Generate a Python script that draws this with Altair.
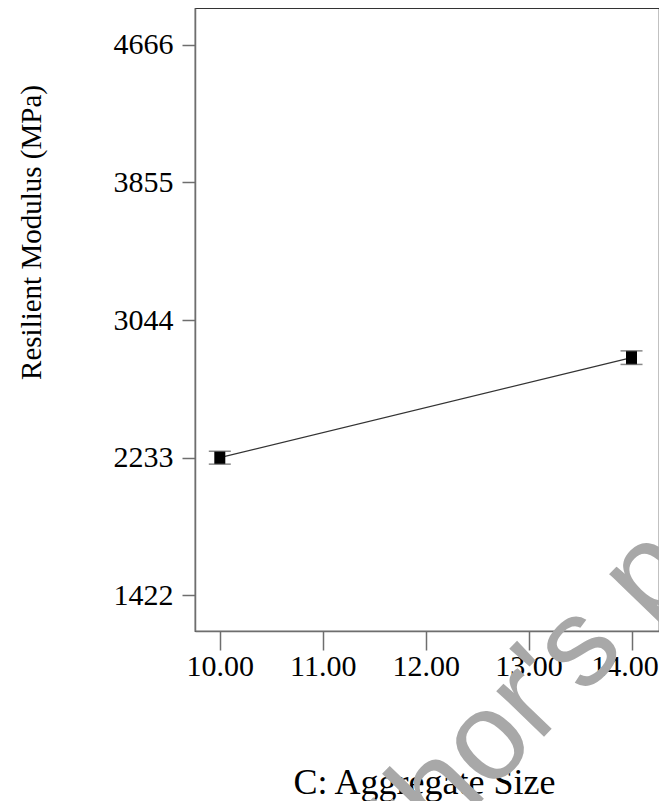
import altair as alt
import pandas as pd

# Data
levels = [10.0, 14.0]
means = [2232, 2822]
errs = [38, 40]

y_ticks = [1422, 2233, 3044, 3855, 4666]
x_ticks = [10.0, 11.0, 12.0, 13.0, 14.0]
y_domain = [1210, 4884]
x_domain = [9.759, 14.267]

df = pd.DataFrame({
    "x": levels,
    "m": means,
    "lo": [m - e for m, e in zip(means, errs)],
    "hi": [m + e for m, e in zip(means, errs)],
})

FONT = "Liberation Serif"
W, H = 464, 623

xs = alt.Scale(domain=x_domain, nice=False, zero=False)
ys = alt.Scale(domain=y_domain, nice=False, zero=False)

xax = alt.Axis(
    values=x_ticks, format=".2f", title="C: Aggregate Size", grid=False,
    labelFont=FONT, labelFontSize=30, labelColor="black", labelPadding=1,
    labelFlush=False, labelOverlap=False, labelBound=False,
    labelOffset={"condition": {"test": "datum.value >= 14", "value": -7}, "value": 0},
    tickSize=19, tickColor="#6e6e6e", tickWidth=1.5,
    domainColor="#6e6e6e", domainWidth=1.5,
    titleFont=FONT, titleFontSize=36, titleFontWeight="normal", titleColor="black",
    titleX=229, titleY=162, titleAlign="center", titleBaseline="alphabetic",
)
yax = alt.Axis(
    values=y_ticks, format="d", title="Resilient Modulus (MPa)", grid=False,
    labelFont=FONT, labelFontSize=30, labelColor="black", labelPadding=9,
    labelFlush=False, labelOverlap=False,
    tickSize=13, tickColor="#6e6e6e", tickWidth=1.5,
    domainColor="#6e6e6e", domainWidth=1.5,
    titleFont=FONT, titleFontSize=29, titleFontWeight="normal", titleColor="black",
    titleAngle=270, titleX=-155, titleY=224, titleAlign="center",
    titleBaseline="alphabetic",
)

base = alt.Chart(df)

line = base.mark_line(color="#333333", strokeWidth=1.2).encode(
    x=alt.X("x:Q", scale=xs, axis=xax),
    y=alt.Y("m:Q", scale=ys, axis=yax),
)
body = base.mark_rule(color="black", strokeWidth=11, strokeCap="butt").encode(
    x=alt.X("x:Q", scale=xs), y=alt.Y("lo:Q", scale=ys), y2="hi:Q"
)
cap_lo = base.mark_tick(orient="horizontal", size=22, thickness=1.5, color="#555555").encode(
    x=alt.X("x:Q", scale=xs), y=alt.Y("lo:Q", scale=ys)
)
cap_hi = base.mark_tick(orient="horizontal", size=22, thickness=1.5, color="#555555").encode(
    x=alt.X("x:Q", scale=xs), y=alt.Y("hi:Q", scale=ys)
)

watermark = alt.Chart(pd.DataFrame({"t": ["Author's personal copy"]})).mark_text(
    font="Liberation Sans", fontSize=125, color="#a8a8a8", angle=314,
    align="left", baseline="alphabetic",
).encode(text="t:N", x=alt.value(116), y=alt.value(970))

chart = alt.layer(line, body, cap_lo, cap_hi, watermark).properties(
    width=W, height=H,
    autosize=alt.AutoSizeParams(type="none"),
    padding={"left": 187, "top": 0, "right": 0, "bottom": 170},
).configure_view(stroke="#333333", strokeWidth=1.2)

chart.save("out.html", embed_options={"renderer": "svg", "actions": False})
